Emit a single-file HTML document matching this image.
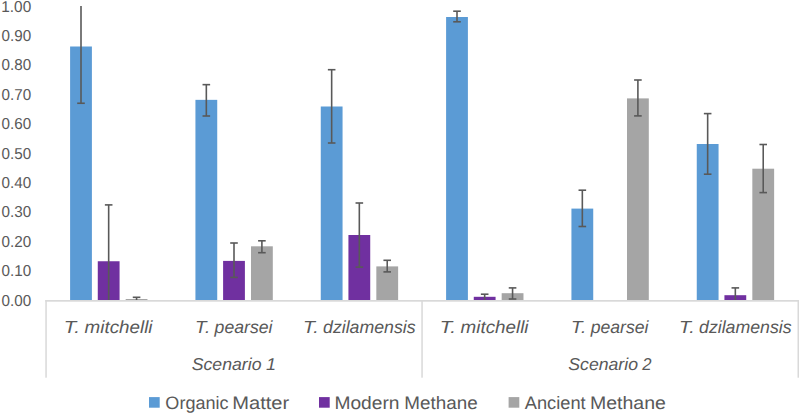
<!DOCTYPE html><html><head><meta charset="utf-8"><style>html,body{margin:0;padding:0;background:#fff;}svg{display:block;}text{font-family:"Liberation Sans",sans-serif;fill:#595959;text-rendering:geometricPrecision;}</style></head><body>
<svg width="800" height="413" viewBox="0 0 800 413">
<rect width="800" height="413" fill="#fff"/>
<rect x="70.10" y="46.50" width="21.80" height="253.50" fill="#5b9bd5"/>
<rect x="97.77" y="261.25" width="21.80" height="38.75" fill="#7030a0"/>
<rect x="125.67" y="299.00" width="21.80" height="1.00" fill="#a5a5a5"/>
<rect x="195.43" y="99.85" width="21.80" height="200.15" fill="#5b9bd5"/>
<rect x="223.10" y="260.90" width="21.80" height="39.10" fill="#7030a0"/>
<rect x="251.00" y="246.30" width="21.80" height="53.70" fill="#a5a5a5"/>
<rect x="320.76" y="106.50" width="21.80" height="193.50" fill="#5b9bd5"/>
<rect x="348.43" y="235.00" width="21.80" height="65.00" fill="#7030a0"/>
<rect x="376.33" y="266.40" width="21.80" height="33.60" fill="#a5a5a5"/>
<rect x="446.10" y="17.00" width="21.80" height="283.00" fill="#5b9bd5"/>
<rect x="473.77" y="296.80" width="21.80" height="3.20" fill="#7030a0"/>
<rect x="501.67" y="293.20" width="21.80" height="6.80" fill="#a5a5a5"/>
<rect x="571.43" y="208.60" width="21.80" height="91.40" fill="#5b9bd5"/>
<rect x="627.00" y="98.40" width="21.80" height="201.60" fill="#a5a5a5"/>
<rect x="696.76" y="144.00" width="21.80" height="156.00" fill="#5b9bd5"/>
<rect x="724.43" y="295.20" width="21.80" height="4.80" fill="#7030a0"/>
<rect x="752.33" y="168.70" width="21.80" height="131.30" fill="#a5a5a5"/>
<rect x="45.3" y="300" width="753.7" height="1.7" fill="#d9d9d9"/>
<rect x="45.30" y="300" width="1.5" height="77.7" fill="#d9d9d9"/>
<rect x="421.30" y="300" width="1.5" height="77.7" fill="#d9d9d9"/>
<rect x="797.50" y="300" width="1.5" height="77.7" fill="#d9d9d9"/>
<line x1="81.00" y1="6.00" x2="81.00" y2="103.25" stroke="#595959" stroke-width="1.60"/>
<line x1="77.20" y1="103.25" x2="84.80" y2="103.25" stroke="#595959" stroke-width="1.60"/>
<line x1="108.67" y1="204.90" x2="108.67" y2="300.00" stroke="#595959" stroke-width="1.60"/>
<line x1="104.87" y1="204.90" x2="112.47" y2="204.90" stroke="#595959" stroke-width="1.60"/>
<line x1="136.57" y1="297.30" x2="136.57" y2="300.00" stroke="#595959" stroke-width="1.60"/>
<line x1="132.77" y1="297.30" x2="140.37" y2="297.30" stroke="#595959" stroke-width="1.60"/>
<line x1="206.33" y1="84.65" x2="206.33" y2="116.00" stroke="#595959" stroke-width="1.60"/>
<line x1="202.53" y1="84.65" x2="210.13" y2="84.65" stroke="#595959" stroke-width="1.60"/>
<line x1="202.53" y1="116.00" x2="210.13" y2="116.00" stroke="#595959" stroke-width="1.60"/>
<line x1="234.00" y1="243.00" x2="234.00" y2="277.40" stroke="#595959" stroke-width="1.60"/>
<line x1="230.20" y1="243.00" x2="237.80" y2="243.00" stroke="#595959" stroke-width="1.60"/>
<line x1="230.20" y1="277.40" x2="237.80" y2="277.40" stroke="#595959" stroke-width="1.60"/>
<line x1="261.90" y1="240.80" x2="261.90" y2="252.70" stroke="#595959" stroke-width="1.60"/>
<line x1="258.10" y1="240.80" x2="265.70" y2="240.80" stroke="#595959" stroke-width="1.60"/>
<line x1="258.10" y1="252.70" x2="265.70" y2="252.70" stroke="#595959" stroke-width="1.60"/>
<line x1="331.66" y1="69.70" x2="331.66" y2="143.00" stroke="#595959" stroke-width="1.60"/>
<line x1="327.86" y1="69.70" x2="335.46" y2="69.70" stroke="#595959" stroke-width="1.60"/>
<line x1="327.86" y1="143.00" x2="335.46" y2="143.00" stroke="#595959" stroke-width="1.60"/>
<line x1="359.33" y1="203.00" x2="359.33" y2="267.10" stroke="#595959" stroke-width="1.60"/>
<line x1="355.53" y1="203.00" x2="363.13" y2="203.00" stroke="#595959" stroke-width="1.60"/>
<line x1="355.53" y1="267.10" x2="363.13" y2="267.10" stroke="#595959" stroke-width="1.60"/>
<line x1="387.23" y1="260.30" x2="387.23" y2="271.90" stroke="#595959" stroke-width="1.60"/>
<line x1="383.43" y1="260.30" x2="391.03" y2="260.30" stroke="#595959" stroke-width="1.60"/>
<line x1="383.43" y1="271.90" x2="391.03" y2="271.90" stroke="#595959" stroke-width="1.60"/>
<line x1="457.00" y1="11.20" x2="457.00" y2="21.80" stroke="#595959" stroke-width="1.60"/>
<line x1="453.20" y1="11.20" x2="460.80" y2="11.20" stroke="#595959" stroke-width="1.60"/>
<line x1="453.20" y1="21.80" x2="460.80" y2="21.80" stroke="#595959" stroke-width="1.60"/>
<line x1="484.67" y1="294.20" x2="484.67" y2="300.00" stroke="#595959" stroke-width="1.60"/>
<line x1="480.87" y1="294.20" x2="488.47" y2="294.20" stroke="#595959" stroke-width="1.60"/>
<line x1="512.57" y1="287.90" x2="512.57" y2="299.00" stroke="#595959" stroke-width="1.60"/>
<line x1="508.77" y1="287.90" x2="516.37" y2="287.90" stroke="#595959" stroke-width="1.60"/>
<line x1="508.77" y1="299.00" x2="516.37" y2="299.00" stroke="#595959" stroke-width="1.60"/>
<line x1="582.33" y1="190.20" x2="582.33" y2="226.50" stroke="#595959" stroke-width="1.60"/>
<line x1="578.53" y1="190.20" x2="586.13" y2="190.20" stroke="#595959" stroke-width="1.60"/>
<line x1="578.53" y1="226.50" x2="586.13" y2="226.50" stroke="#595959" stroke-width="1.60"/>
<line x1="637.90" y1="80.00" x2="637.90" y2="115.90" stroke="#595959" stroke-width="1.60"/>
<line x1="634.10" y1="80.00" x2="641.70" y2="80.00" stroke="#595959" stroke-width="1.60"/>
<line x1="634.10" y1="115.90" x2="641.70" y2="115.90" stroke="#595959" stroke-width="1.60"/>
<line x1="707.66" y1="113.60" x2="707.66" y2="174.20" stroke="#595959" stroke-width="1.60"/>
<line x1="703.86" y1="113.60" x2="711.46" y2="113.60" stroke="#595959" stroke-width="1.60"/>
<line x1="703.86" y1="174.20" x2="711.46" y2="174.20" stroke="#595959" stroke-width="1.60"/>
<line x1="735.33" y1="287.90" x2="735.33" y2="300.00" stroke="#595959" stroke-width="1.60"/>
<line x1="731.53" y1="287.90" x2="739.13" y2="287.90" stroke="#595959" stroke-width="1.60"/>
<line x1="763.23" y1="144.50" x2="763.23" y2="192.60" stroke="#595959" stroke-width="1.60"/>
<line x1="759.43" y1="144.50" x2="767.03" y2="144.50" stroke="#595959" stroke-width="1.60"/>
<line x1="759.43" y1="192.60" x2="767.03" y2="192.60" stroke="#595959" stroke-width="1.60"/>
<text x="1.48" y="305.50" font-size="15.80" textLength="29.63" lengthAdjust="spacingAndGlyphs">0.00</text>
<text x="1.48" y="276.11" font-size="15.80" textLength="29.63" lengthAdjust="spacingAndGlyphs">0.10</text>
<text x="1.48" y="246.72" font-size="15.80" textLength="29.63" lengthAdjust="spacingAndGlyphs">0.20</text>
<text x="1.48" y="217.33" font-size="15.80" textLength="29.63" lengthAdjust="spacingAndGlyphs">0.30</text>
<text x="1.48" y="187.94" font-size="15.80" textLength="29.63" lengthAdjust="spacingAndGlyphs">0.40</text>
<text x="1.48" y="158.55" font-size="15.80" textLength="29.63" lengthAdjust="spacingAndGlyphs">0.50</text>
<text x="1.48" y="129.16" font-size="15.80" textLength="29.63" lengthAdjust="spacingAndGlyphs">0.60</text>
<text x="1.48" y="99.77" font-size="15.80" textLength="29.63" lengthAdjust="spacingAndGlyphs">0.70</text>
<text x="1.48" y="70.38" font-size="15.80" textLength="29.63" lengthAdjust="spacingAndGlyphs">0.80</text>
<text x="1.48" y="40.99" font-size="15.80" textLength="29.63" lengthAdjust="spacingAndGlyphs">0.90</text>
<text x="1.29" y="11.60" font-size="15.80" textLength="29.90" lengthAdjust="spacingAndGlyphs">1.00</text>
<text x="63.71" y="332.60" font-size="17.60" font-style="italic" textLength="16.35" lengthAdjust="spacingAndGlyphs">T.</text>
<text x="84.58" y="332.60" font-size="17.60" font-style="italic" textLength="67.96" lengthAdjust="spacingAndGlyphs">mitchelli</text>
<text x="195.14" y="332.60" font-size="17.60" font-style="italic" textLength="15.05" lengthAdjust="spacingAndGlyphs">T.</text>
<text x="214.63" y="332.60" font-size="17.60" font-style="italic" textLength="57.87" lengthAdjust="spacingAndGlyphs">pearsei</text>
<text x="303.07" y="332.60" font-size="17.60" font-style="italic" textLength="15.65" lengthAdjust="spacingAndGlyphs">T.</text>
<text x="323.02" y="332.60" font-size="17.60" font-style="italic" textLength="92.65" lengthAdjust="spacingAndGlyphs">dzilamensis</text>
<text x="439.71" y="332.60" font-size="17.60" font-style="italic" textLength="16.35" lengthAdjust="spacingAndGlyphs">T.</text>
<text x="460.58" y="332.60" font-size="17.60" font-style="italic" textLength="67.96" lengthAdjust="spacingAndGlyphs">mitchelli</text>
<text x="571.14" y="332.60" font-size="17.60" font-style="italic" textLength="15.05" lengthAdjust="spacingAndGlyphs">T.</text>
<text x="590.63" y="332.60" font-size="17.60" font-style="italic" textLength="57.87" lengthAdjust="spacingAndGlyphs">pearsei</text>
<text x="679.07" y="332.60" font-size="17.60" font-style="italic" textLength="15.65" lengthAdjust="spacingAndGlyphs">T.</text>
<text x="699.02" y="332.60" font-size="17.60" font-style="italic" textLength="92.65" lengthAdjust="spacingAndGlyphs">dzilamensis</text>
<text x="191.72" y="370.30" font-size="17.20" font-style="italic" textLength="69.81" lengthAdjust="spacingAndGlyphs">Scenario</text>
<text x="265.92" y="370.30" font-size="17.20" font-style="italic" textLength="10.05" lengthAdjust="spacingAndGlyphs">1</text>
<text x="568.28" y="370.30" font-size="17.20" font-style="italic" textLength="69.75" lengthAdjust="spacingAndGlyphs">Scenario</text>
<text x="642.16" y="370.30" font-size="17.20" font-style="italic" textLength="9.25" lengthAdjust="spacingAndGlyphs">2</text>
<text x="165.35" y="408.60" font-size="18.00" textLength="63.18" lengthAdjust="spacingAndGlyphs">Organic</text>
<text x="232.22" y="408.60" font-size="18.00" textLength="56.94" lengthAdjust="spacingAndGlyphs">Matter</text>
<text x="334.43" y="408.60" font-size="18.00" textLength="65.09" lengthAdjust="spacingAndGlyphs">Modern</text>
<text x="404.31" y="408.60" font-size="18.00" textLength="73.34" lengthAdjust="spacingAndGlyphs">Methane</text>
<text x="524.74" y="408.60" font-size="18.00" textLength="60.87" lengthAdjust="spacingAndGlyphs">Ancient</text>
<text x="589.91" y="408.60" font-size="18.00" textLength="75.98" lengthAdjust="spacingAndGlyphs">Methane</text>
<rect x="149.00" y="397.1" width="10.7" height="10.6" fill="#5b9bd5"/>
<rect x="319.00" y="397.1" width="10.7" height="10.6" fill="#7030a0"/>
<rect x="508.60" y="397.1" width="10.7" height="10.6" fill="#a5a5a5"/>
</svg></body></html>
